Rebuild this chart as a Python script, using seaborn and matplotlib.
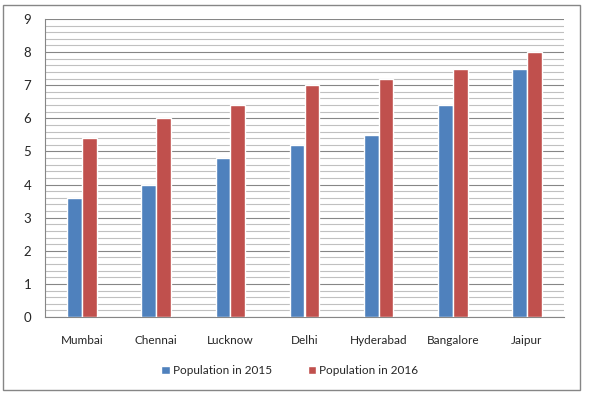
import pandas as pd
import matplotlib
import matplotlib.pyplot as plt
import seaborn as sns
from matplotlib.patches import Rectangle
from matplotlib.ticker import MultipleLocator

matplotlib.use('Agg')

# Chart data
cities = ['Mumbai', 'Chennai', 'Lucknow', 'Delhi', 'Hyderabad', 'Bangalore', 'Jaipur']
pop_2015 = [3.6, 4.0, 4.8, 5.2, 5.5, 6.4, 7.5]
pop_2016 = [5.4, 6.0, 6.4, 7.0, 7.2, 7.5, 8.0]
series_names = ['Population in 2015', 'Population in 2016']

df = pd.DataFrame({
    'City': cities * 2,
    'Value': pop_2015 + pop_2016,
    'Series': [series_names[0]] * len(cities) + [series_names[1]] * len(cities),
})

sns.set_style('white')
plt.rcParams['font.family'] = ['Lato', 'DejaVu Sans']

fig = plt.figure(figsize=(5.89, 3.96), dpi=100)
ax = fig.add_axes([45 / 589, 79 / 396, 519 / 589, 298 / 396])

sns.barplot(data=df, x='City', y='Value', hue='Series',
            palette=['#4f81bd', '#c0504d'], width=0.4, saturation=1,
            ax=ax, zorder=3)

ax.set_ylim(0, 9)
ax.set_xlim(-0.5, len(cities) - 0.5)
ax.yaxis.set_major_locator(MultipleLocator(1))
ax.yaxis.set_minor_locator(MultipleLocator(0.2))
ax.grid(which='major', axis='y', color='#868686', linewidth=0.8, zorder=0)
ax.grid(which='minor', axis='y', color='#c0c0c0', linewidth=0.8, zorder=0)
ax.set_axisbelow(True)

for side in ['top', 'right']:
    ax.spines[side].set_visible(False)
for side in ['left', 'bottom']:
    ax.spines[side].set_color('#868686')
    ax.spines[side].set_linewidth(0.8)

ax.tick_params(axis='y', which='major', length=4, color='#868686', labelsize=9.5, pad=6)
ax.tick_params(axis='y', which='minor', length=0)
ax.tick_params(axis='x', length=0, labelsize=8.5, pad=13)
ax.set_xlabel('')
ax.set_ylabel('')

ax.legend(loc='center', bbox_to_anchor=(0.472, -0.18), ncol=2, frameon=False,
          fontsize=8.5, handlelength=0.7, handleheight=0.7, columnspacing=3.0,
          handletextpad=0.3)

# Outer chart border
fig.patches.append(Rectangle((3 / 589, 6 / 396), 577 / 589, 385 / 396,
                             transform=fig.transFigure, fill=False,
                             edgecolor='#868686', linewidth=1.0))

fig.savefig('out.png', dpi=100)
